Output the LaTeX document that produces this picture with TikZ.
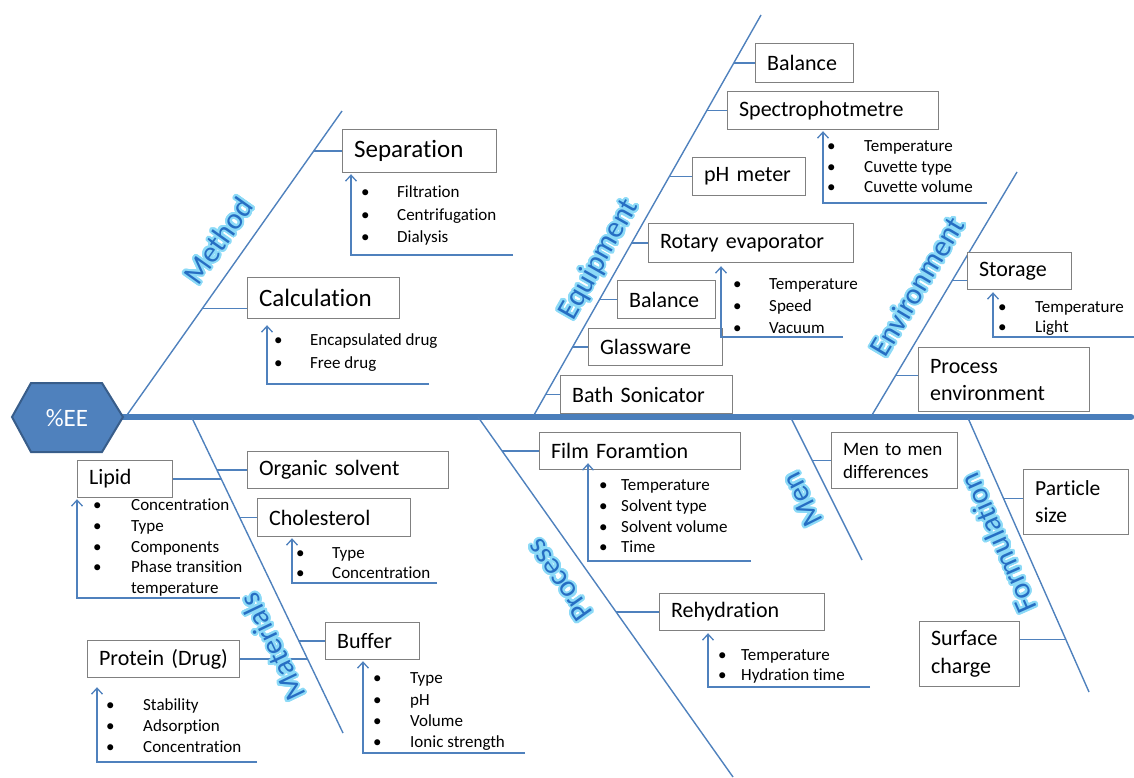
\documentclass[tikz,border=0pt]{standalone}
\usepackage{fontspec}
\setmainfont{Carlito}[Ligatures=NoCommon]
\usepackage{contour}
\contourlength{2pt}
\contournumber{24}
\usetikzlibrary{arrows.meta,calc}
\definecolor{bl}{RGB}{79,129,189}
\definecolor{spinec}{RGB}{74,126,187}
\definecolor{hexfill}{RGB}{79,129,189}
\definecolor{hexdraw}{RGB}{56,93,138}
\definecolor{boxc}{RGB}{128,128,128}
\definecolor{lblc}{RGB}{38,110,195}
\definecolor{glowc}{RGB}{140,218,247}
\newcommand\li[2]{\rule{0pt}{13pt}\makebox[#1pt][l]{\textbullet}#2}
\newcommand\tobone[3]{\draw[bone] let \p1=(#1), \p2=(#2), \p3=(#3) in (\p3) -- ({\x1+(\y3-\y1)/(\y2-\y1)*(\x2-\x1)},\y3);}
\tikzset{
 bone/.style={draw=bl, line width=1.4pt},
 box/.style={draw=boxc, fill=white, line width=1.2pt, anchor=north west, inner xsep=11.5pt, inner ysep=0pt, align=left, font=\fontsize{22}{27}\selectfont},
 bigbox/.style={box, font=\fontsize{25}{30}\selectfont},
 lst/.style={anchor=north west, inner sep=0pt, align=left},
 barb/.style={draw=bl, line width=1.4pt, -{Straight Barb[length=6pt,width=11pt,line width=1.3pt]}},
 lbl/.style={inner sep=0pt, text=lblc, font=\fontsize{30}{36}\selectfont},
}
\begin{document}
\begin{tikzpicture}[x=1pt,y=-1pt]
\useasboundingbox (0,0) rectangle (1134,777);
% bone end points
\coordinate (hexR) at (123,417);
\coordinate (mA) at (127,415); \coordinate (mB) at (342,111);
\coordinate (eA) at (534,415); \coordinate (eB) at (761,15);
\coordinate (vA) at (872,415); \coordinate (vB) at (1017,172);
\coordinate (tA) at (192,418); \coordinate (tB) at (343,733);
\coordinate (pA) at (478,417); \coordinate (pB) at (733,777);
\coordinate (nA) at (791,418); \coordinate (nB) at (862,560);
\coordinate (fA) at (968,418); \coordinate (fB) at (1089,692);
% spine and bones
\draw[spinec, line width=6.5pt, line cap=round] (hexR) -- (1131,417);
\foreach \a/\b in {mA/mB,eA/eB,vA/vB,tA/tB,pA/pB,nA/nB,fA/fB} \draw[bone] (\a) -- (\b);

% boxes
\node[bigbox, text width=131pt, minimum height=43pt] (sep) at (342,129) {Separation};
\node[bigbox, text width=129pt, minimum height=41pt] (calc) at (247,277) {Calculation};
\node[box, text width=75pt, minimum height=39pt] (bal1) at (755,43) {Balance};
\node[box, text width=188pt, minimum height=38pt] (spec) at (727,91) {Spectrophotmetre};
\node[box, text width=90pt, minimum height=38pt] (ph) at (692,157) {pH meter};
\node[box, text width=182pt, minimum height=39pt] (rot) at (648,223) {Rotary evaporator};
\node[box, text width=75pt, minimum height=38pt] (bal2) at (617,280) {Balance};
\node[box, text width=111pt, minimum height=37pt] (glass) at (588,328) {Glassware};
\node[box, text width=149pt, minimum height=38pt] (bath) at (560,375) {Bath Sonicator};
\node[box, text width=81pt, minimum height=37pt] (stor) at (967,252) {Storage};
\node[box, text width=148pt, minimum height=64pt] (penv) at (918,347) {Process\\environment};
\node[box, text width=72pt, minimum height=37pt] (lipid) at (77,460) {Lipid};
\node[box, text width=178pt, minimum height=37pt] (org) at (247,451) {Organic solvent};
\node[box, text width=130pt, minimum height=38pt] (chol) at (257,498) {Cholesterol};
\node[box, text width=71pt, minimum height=37pt] (buf) at (325,622) {Buffer};
\node[box, text width=129pt, minimum height=37pt] (prot) at (87,640) {\mbox{Protein (Drug)}};
\node[box, text width=178pt, minimum height=37pt] (film) at (539,432) {Film Foramtion};
\node[box, text width=142pt, minimum height=37pt] (rehy) at (659,593) {Rehydration};
\node[box, text width=103pt, minimum height=56pt, font=\fontsize{19}{23}\selectfont] (men) at (831,432) {Men to men\\differences};
\node[box, text width=82pt, minimum height=65pt, font=\fontsize{21.5}{27}\selectfont] (part) at (1023,469) {Particle\\size};
\node[box, text width=77pt, minimum height=65pt, font=\fontsize{22}{28}\selectfont] (surf) at (919,621) {Surface\\charge};

% connectors from boxes to bones
\tobone{mA}{mB}{sep.west}
\tobone{mA}{mB}{[yshift=-10.5pt]calc.west}
\tobone{eA}{eB}{bal1.west}
\tobone{eA}{eB}{spec.west}
\tobone{eA}{eB}{ph.west}
\tobone{eA}{eB}{rot.west}
\tobone{eA}{eB}{bal2.west}
\tobone{eA}{eB}{glass.west}
\tobone{eA}{eB}{bath.west}
\tobone{vA}{vB}{[yshift=-9.5pt]stor.west}
\tobone{vA}{vB}{[yshift=4pt]penv.west}
\tobone{tA}{tB}{lipid.east}
\tobone{tA}{tB}{org.west}
\tobone{tA}{tB}{chol.west}
\tobone{tA}{tB}{buf.west}
\tobone{tA}{tB}{prot.east}
\tobone{pA}{pB}{film.west}
\tobone{pA}{pB}{rehy.west}
\tobone{nA}{nB}{men.west}
\tobone{fA}{fB}{[yshift=3.5pt]part.west}
\tobone{fA}{fB}{[yshift=14.5pt]surf.east}

% detail arrows
\coordinate (sepE) at (513,255);
\coordinate (calcE) at (429,384);
\coordinate (specE) at (987,203);
\coordinate (rotE) at (843,337);
\coordinate (storE) at (1134,337);
\coordinate (lipidE) at (240,598);
\coordinate (cholE) at (437,583);
\coordinate (bufE) at (525,753);
\coordinate (protE) at (257,762);
\coordinate (filmE) at (751,561);
\coordinate (rehyE) at (870,687);
\draw[barb] (sepE) -| ([xshift=9pt,yshift=-1pt]sep.south west);
\draw[barb] (calcE) -| ([xshift=20pt,yshift=-6pt]calc.south west);
\draw[barb] (specE) -| ([xshift=96pt,yshift=-1pt]spec.south west);
\draw[barb] (rotE) -| ([xshift=73pt,yshift=-3pt]rot.south west);
\draw[barb] (storE) -| ([xshift=26pt,yshift=-2pt]stor.south west);
\draw[barb] (lipidE) -| ([xshift=0pt,yshift=-1pt]lipid.south west);
\draw[barb] (cholE) -| ([xshift=35pt,yshift=-1pt]chol.south west);
\draw[barb] (bufE) -| ([xshift=38pt,yshift=-1pt]buf.south west);
\draw[barb] (protE) -| ([xshift=10pt,yshift=-9pt]prot.south west);
\draw[barb] (filmE) -| ([xshift=49pt,yshift=7pt]film.south west);
\draw[barb] (rehyE) -| ([xshift=49pt,yshift=-2pt]rehy.south west);

% bullet lists
\node[lst, font=\fontsize{17}{22.5}\selectfont] (sepL) at (361,184.5) {\li{36}{Filtration}\\\li{36}{Centrifugation}\\\li{36}{Dialysis}};
\node[lst, font=\fontsize{17}{23}\selectfont] (calcL) at (274,332.5) {\li{36}{Encapsulated drug}\\\li{36}{Free drug}};
\node[lst, font=\fontsize{17}{20.5}\selectfont] (specL) at (827,138.5) {\li{37}{Temperature}\\\li{37}{Cuvette type}\\\li{37}{Cuvette volume}};
\node[lst, font=\fontsize{17}{22}\selectfont] (rotL) at (733,276.5) {\li{36}{Temperature}\\\li{36}{Speed}\\\li{36}{Vacuum}};
\node[lst, font=\fontsize{17}{19.5}\selectfont] (storL) at (998,299.5) {\li{37}{Temperature}\\\li{37}{Light}};
\node[lst, font=\fontsize{17}{20.75}\selectfont] (lipidL) at (93,497.5) {\li{38}{Concentration}\\\li{38}{Type}\\\li{38}{Components}\\\li{38}{Phase transition}\\\rule{0pt}{13pt}\hspace{38pt}temperature};
\node[lst, font=\fontsize{17}{20}\selectfont] (cholL) at (296,545.5) {\li{36}{Type}\\\li{36}{Concentration}};
\node[lst, font=\fontsize{17}{21.3}\selectfont] (bufL) at (373,670.5) {\li{37}{Type}\\\li{37}{pH}\\\li{37}{Volume}\\\li{37}{Ionic strength}};
\node[lst, font=\fontsize{17}{21}\selectfont] (protL) at (106,697.5) {\li{37}{Stability}\\\li{37}{Adsorption}\\\li{37}{Concentration}};
\node[lst, font=\fontsize{17}{20.7}\selectfont] (filmL) at (599,477.5) {\li{22}{Temperature}\\\li{22}{Solvent type}\\\li{22}{Solvent volume}\\\li{22}{Time}};
\node[lst, font=\fontsize{17}{20}\selectfont] (rehyL) at (718,647.5) {\li{23}{Temperature}\\\li{23}{Hydration time}};

% category labels
\node[lbl, rotate=54.7] (lMethod) at (219,241) {\contour{glowc}{Method}};
\node[lbl, rotate=60.4] (lEquip) at (600,260) {\contour{glowc}{Equipment}};
\node[lbl, rotate=59.2] (lEnv) at (918,287) {\contour{glowc}{Environment}};
\node[lbl, rotate=115.6] (lMat) at (273,647) {\contour{glowc}{Materials}};
\node[lbl, rotate=125.3] (lProc) at (560,580) {\contour{glowc}{Process}};
\node[lbl, rotate=116.6] (lMen) at (803,499) {\contour{glowc}{Men}};
\node[lbl, rotate=113.8] (lForm) at (999,543) {\contour{glowc}{Formulation}};

% head
\filldraw[fill=hexfill, draw=hexdraw, line width=2pt] (12,417) -- (31,383) -- (102,383) -- (123,417) -- (102,452) -- (31,452) -- cycle;
\node[text=white, font=\fontsize{25}{30}\selectfont, inner sep=0pt] (ee) at (67,418) {\%EE};
\end{tikzpicture}
\end{document}
